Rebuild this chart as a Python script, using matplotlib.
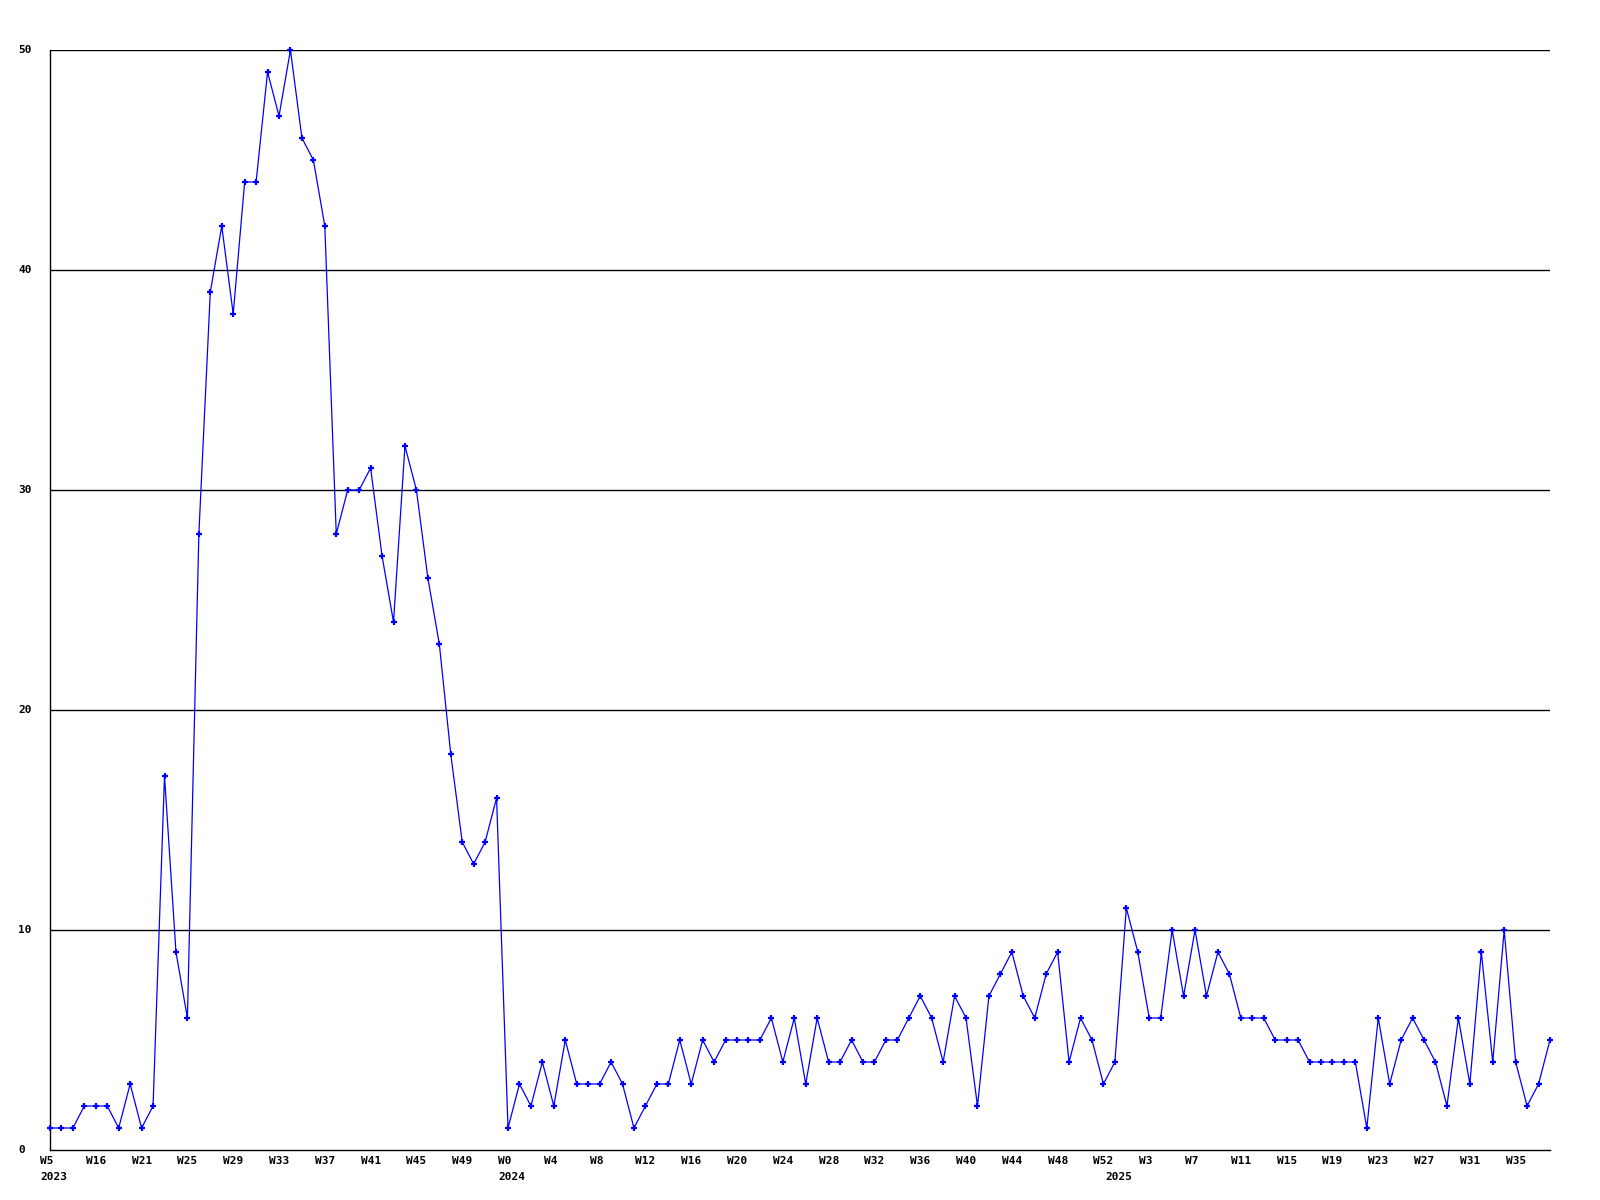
import matplotlib
matplotlib.use("Agg")
import matplotlib.pyplot as plt
import matplotlib.transforms as mtransforms

values = [1, 1, 1, 2, 2, 2, 1, 3, 1, 2,
          17, 9, 6, 28, 39, 42, 38, 44, 44, 49,
          47, 50, 46, 45, 42, 28, 30, 30, 31, 27,
          24, 32, 30, 26, 23, 18, 14, 13, 14, 16,
          1, 3, 2, 4, 2, 5, 3, 3, 3, 4,
          3, 1, 2, 3, 3, 5, 3, 5, 4, 5,
          5, 5, 5, 6, 4, 6, 3, 6, 4, 4,
          5, 4, 4, 5, 5, 6, 7, 6, 4, 7,
          6, 2, 7, 8, 9, 7, 6, 8, 9, 4,
          6, 5, 3, 4, 11, 9, 6, 6, 10, 7,
          10, 7, 9, 8, 6, 6, 6, 5, 5, 5,
          4, 4, 4, 4, 4, 1, 6, 3, 5, 6,
          5, 4, 2, 6, 3, 9, 4, 10, 4, 2,
          3, 5]

week_labels = ["W5", "W16", "W21", "W25", "W29", "W33", "W37", "W41", "W45", "W49",
               "W0", "W4", "W8", "W12", "W16", "W20", "W24", "W28", "W32", "W36",
               "W40", "W44", "W48", "W52", "W3", "W7", "W11", "W15", "W19", "W23",
               "W27", "W31", "W35"]
week_label_index = list(range(0, 132, 4))
year_labels = ["2023", "2024", "2025"]
year_label_index = [0, 40, 93]
y_ticks = [0, 10, 20, 30, 40, 50]

W, H = 1600, 1200
fig = plt.figure(figsize=(16, 12), dpi=100)
ax = fig.add_axes([50 / W, 1 - 1150 / H, 1500 / W, 1100 / H])

x = list(range(len(values)))
ax.set_xlim(0, len(values) - 1)
ax.set_ylim(0, 50)

for t in y_ticks[1:]:
    ax.axhline(t, color="black", lw=1.0, zorder=1)

ax.plot(x, values, color="#0000ff", lw=0.9, marker="+", ms=5, mew=1.6,
        mec="#0000ff", mfc="#0000ff", zorder=3, clip_on=False)

for s in ["top", "right"]:
    ax.spines[s].set_visible(False)
for s in ["left", "bottom"]:
    ax.spines[s].set_color("black")
    ax.spines[s].set_linewidth(1.0)

ax.set_xticks([])
ax.set_yticks([])

font = dict(family="DejaVu Sans Mono", weight="bold", size=8, color="black")

# y labels at left edge of figure
for t in y_ticks:
    ypix = 1150 - t * 22
    fig.text(18 / W, 1 - ypix / H, str(t), ha="left", va="center", **font)

# week labels, left aligned 10px left of the point
offset = mtransforms.ScaledTranslation(-10 / 100, 0, fig.dpi_scale_trans)
trans = mtransforms.blended_transform_factory(ax.transData, fig.transFigure) + offset
for i, lab in zip(week_label_index, week_labels):
    fig.text(i, 1 - 1161 / H, lab, ha="left", va="center", transform=trans, **font)
for i, lab in zip(year_label_index, year_labels):
    fig.text(i, 1 - 1177 / H, lab, ha="left", va="center", transform=trans, **font)

fig.savefig("out.png", dpi=100, facecolor="white")
